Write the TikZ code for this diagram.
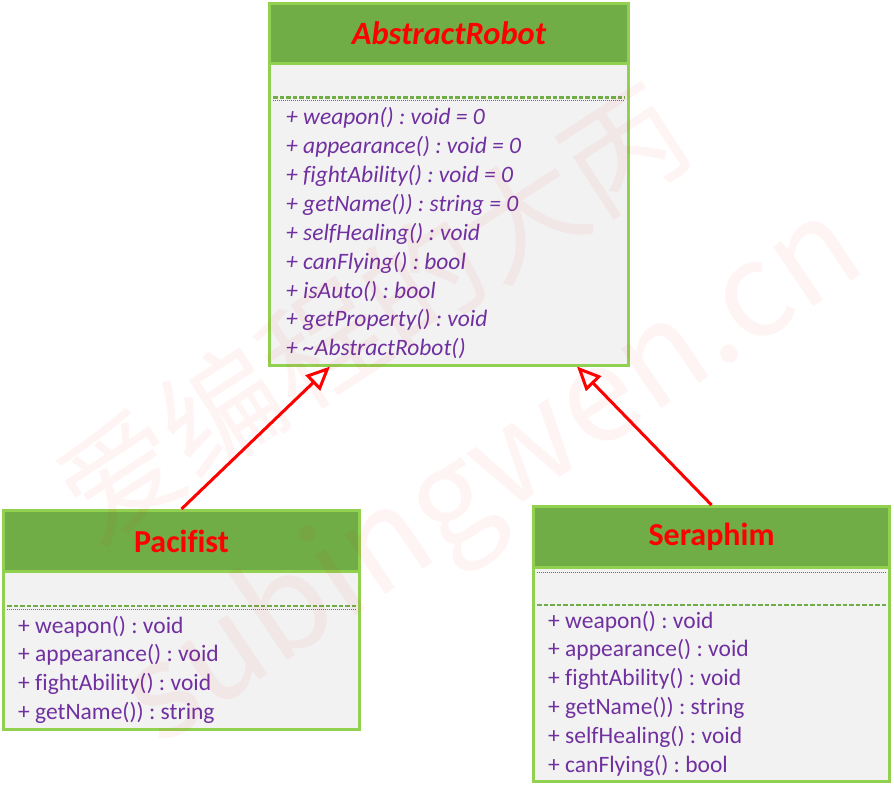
\documentclass[tikz,border=0pt]{standalone}
\usepackage{fontspec}
\setmainfont{Carlito}[Ligatures={NoCommon}]
\newfontfamily\cjkfont{Noto Sans CJK SC}
\usetikzlibrary{arrows.meta}

\definecolor{headgreen}{HTML}{70AD47}
\definecolor{rimgreen}{HTML}{92D050}
\definecolor{bodygray}{HTML}{F2F2F2}
\definecolor{methodpurple}{HTML}{7030A0}
\definecolor{dotblue}{HTML}{4472C4}

\tikzset{
    headbox/.style={draw=rimgreen, fill=headgreen, line width=3pt, inner sep=0pt, text=red, font=\fontsize{32}{36}\selectfont\bfseries},
    bodybox/.style={draw=rimgreen, fill=bodygray, line width=3pt, inner sep=0pt},
    methodline/.style={anchor=base west, inner sep=0pt, text=methodpurple, font=\fontsize{23.5}{28}\selectfont},
    greendash/.style={draw=headgreen, line width=2.4pt, dash pattern=on 4.5pt off 2pt},
    bluedot/.style={draw=dotblue, line width=0.8pt, dash pattern=on 1pt off 1pt},
    inherit/.style={draw=red, line width=3pt, -{Triangle[fill=white, length=24pt, width=21pt]}},
    watermark/.style={text=red, text opacity=0.045, inner sep=0pt}
}

\begin{document}
\frenchspacing
\begin{tikzpicture}[x=1pt, y=-1pt]
    \useasboundingbox (0,0) rectangle (894,791);

    % AbstractRobot
    \node[bodybox, minimum width=359pt, minimum height=302pt] (robotbody) at (449,214.5) {};
    \node[headbox, font=\fontsize{32.5}{36}\selectfont\bfseries\itshape, minimum width=359pt, minimum height=60pt] (robot) at (449,33.5) {AbstractRobot};
    \draw[greendash] (273,97.5) -- (625,97.5);
    \draw[bluedot] (273,100.5) -- (625,100.5);
    \foreach \m [count=\i from 0] in {{+ weapon() : void = 0}, {+ appearance() : void = 0}, {+ fightAbility() : void = 0}, {+ getName()) : string = 0}, {+ selfHealing() : void}, {+ canFlying() : bool}, {+ isAuto() : bool}, {+ getProperty() : void}, {+ \textasciitilde AbstractRobot()}}
        \node[methodline, font=\fontsize{23.5}{28}\selectfont\itshape] (robotm\i) at (286,125+28.85*\i) {\m};

    % Pacifist
    \node[bodybox, minimum width=356pt, minimum height=158pt] (pacifistbody) at (181.5,650.5) {};
    \node[headbox, minimum width=356pt, minimum height=61pt] (pacifist) at (181.5,541) {Pacifist};
    \draw[greendash] (7,606) -- (356,606);
    \draw[bluedot] (7,609) -- (356,609);
    \foreach \m [count=\i from 0] in {{+ weapon() : void}, {+ appearance() : void}, {+ fightAbility() : void}, {+ getName()) : string}}
        \node[methodline] (pacifistm\i) at (18,633+28.7*\i) {\m};

    % Seraphim
    \node[bodybox, minimum width=356pt, minimum height=214.5pt] (seraphimbody) at (711.5,674.25) {};
    \node[headbox, minimum width=356pt, minimum height=60.5pt] (seraphim) at (711.5,536.75) {Seraphim};
    \draw[bluedot] (537,572) -- (886,572);
    \draw[greendash] (537,605) -- (886,605);
    \foreach \m [count=\i from 0] in {{+ weapon() : void}, {+ appearance() : void}, {+ fightAbility() : void}, {+ getName()) : string}, {+ selfHealing() : void}, {+ canFlying() : bool}}
        \node[methodline] (seraphimm\i) at (548,628+28.8*\i) {\m};

    % Inheritance
    \coordinate (pacifistin) at (330,366.5);
    \coordinate (seraphimin) at (577,366.5);
    \draw[inherit] (pacifist.north) -- (pacifistin);
    \draw[inherit] (seraphim.north) -- (seraphimin);

    % Watermark
    \node[watermark, rotate=33, font=\cjkfont\fontsize{120}{120}\selectfont] (markcn) at (372,312) {爱编程的大丙};
    \node[watermark, rotate=34, font=\cjkfont\fontsize{132}{132}\selectfont] (markurl) at (495,478) {subingwen.cn};
\end{tikzpicture}
\end{document}
